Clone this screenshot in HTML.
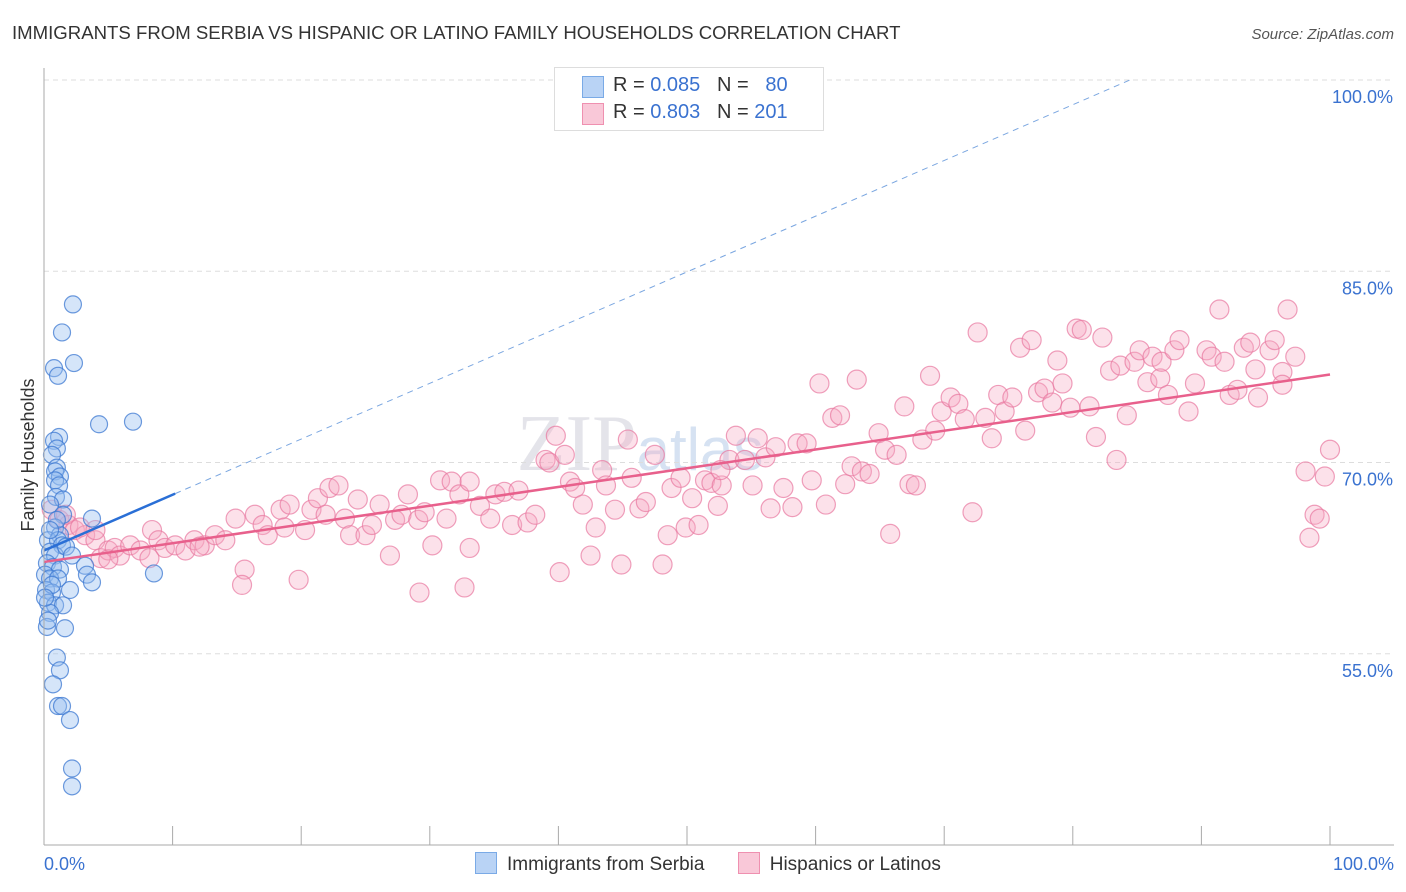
<!DOCTYPE html>
<html><head><meta charset="utf-8"><style>
body{margin:0;background:#fff;font-family:"Liberation Sans",sans-serif;}
#wrap{position:relative;width:1406px;height:892px;overflow:hidden}
</style></head><body>
<div id="wrap">
<svg id="svg" width="1406" height="892" xmlns="http://www.w3.org/2000/svg">
<text x="12" y="39" font-size="18.6" fill="#333">IMMIGRANTS FROM SERBIA VS HISPANIC OR LATINO FAMILY HOUSEHOLDS CORRELATION CHART</text>
<text x="1394" y="39" font-size="15" fill="#555" font-style="italic" text-anchor="end">Source: ZipAtlas.com</text>
<text x="640" y="470" font-size="80" fill="#e4e4ea" font-family="Liberation Serif" text-anchor="middle">ZIP<tspan font-family="Liberation Sans" font-size="60" fill="#d6e2f2">atlas</tspan></text>
<text transform="translate(34,455) rotate(-90)" font-size="18" fill="#333" text-anchor="middle">Family Households</text>
<g id="grid"></g><g id="pts"></g><g id="lines"></g><g id="axes"></g>
</svg>
<div style="position:absolute;left:554px;top:67px;width:268px;height:62px;border:1px solid #ddd;background:#fff;font-size:20px;color:#333">
<div style="position:absolute;left:27px;top:8px;width:20px;height:20px;background:#b9d3f5;border:1px solid #7aaae6"></div>
<div style="position:absolute;left:58px;top:6px">R = <span style="color:#3a72d0">0.085</span>&nbsp;&nbsp;&nbsp;N = &nbsp;&nbsp;<span style="color:#3a72d0">80</span></div>
<div style="position:absolute;left:27px;top:35px;width:20px;height:20px;background:#f9c8d8;border:1px solid #ef90b0"></div>
<div style="position:absolute;left:58px;top:33px">R = <span style="color:#3a72d0">0.803</span>&nbsp;&nbsp;&nbsp;N = <span style="color:#3a72d0">201</span></div>
</div>
<div style="position:absolute;top:852px;left:475px;font-size:19px;color:#333;white-space:nowrap">
<span><span style="display:inline-block;width:20px;height:20px;background:#b9d3f5;border:1px solid #7aaae6;vertical-align:-4px;margin-right:10px"></span>Immigrants from Serbia</span>
<span style="margin-left:28px"><span style="display:inline-block;width:20px;height:20px;background:#f9c8d8;border:1px solid #ef90b0;vertical-align:-4px;margin-right:10px"></span>Hispanics or Latinos</span>
</div>
</div>
<script>
const yTicks=[100,85,70,55];
const yTickLabels=["100.0%","85.0%","70.0%","55.0%"];
const xTickLabels=["0.0%","100.0%"];
const blueX=[2.25,1.4,2.33,0.78,1.09,4.28,6.92,1.17,0.78,1.0,0.62,1.0,0.86,1.24,0.86,1.17,0.93,1.48,0.47,1.48,3.73,0.86,1.24,0.31,1.09,1.4,0.47,0.86,1.71,2.18,0.23,0.7,1.24,0.08,0.47,1.09,3.19,3.34,3.73,2.02,0.16,0.62,0.31,0.86,1.48,0.47,0.23,1.63,1.0,1.24,0.7,1.09,1.4,2.02,2.18,2.18,8.55,0.31,0.62,0.08,1.0,0.47];
const blueY=[82.4,80.2,77.8,77.4,76.8,73.0,73.2,72.0,71.7,71.1,70.6,69.6,69.3,68.9,68.6,68.2,67.3,67.1,66.7,65.9,65.6,64.9,64.3,63.9,63.9,63.5,63.0,62.7,63.4,62.7,62.1,61.8,61.6,61.2,60.9,60.9,61.9,61.2,60.6,60.0,60.0,59.8,59.0,58.8,58.8,58.2,57.1,57.0,54.7,53.7,52.6,50.9,50.9,49.8,46.0,44.6,61.3,57.6,60.4,59.4,65.5,64.7];
const pinkX=[0.6,1.2,1.9,2.4,3.2,4.0,4.4,5.0,5.5,5.9,6.7,7.5,8.4,8.9,9.4,10.2,11.0,11.7,12.5,13.3,14.1,14.9,15.6,15.4,16.4,17.0,17.4,18.4,18.7,19.1,19.8,20.3,20.8,21.3,21.9,22.2,22.9,23.4,23.8,24.4,25.0,25.5,26.1,26.9,27.3,27.8,28.3,29.1,29.6,30.2,30.8,31.3,31.7,32.3,32.7,33.1,33.9,34.7,35.1,35.8,36.4,36.9,37.6,38.2,39.0,39.3,39.8,40.5,40.9,41.3,41.9,42.5,42.9,43.4,43.7,44.4,44.9,45.4,45.7,46.3,46.8,47.5,48.1,48.5,48.8,49.5,49.9,50.4,50.9,51.4,51.9,52.4,52.7,53.3,53.8,54.5,55.1,55.5,56.1,56.5,56.9,57.5,58.2,58.6,59.3,59.7,60.3,60.8,61.3,61.9,62.3,62.8,63.2,63.6,64.2,64.9,65.4,65.8,66.3,66.9,67.3,67.8,68.3,68.9,69.3,69.8,70.5,71.1,71.6,72.2,72.6,73.2,73.7,74.2,74.7,75.3,75.9,76.3,76.8,77.3,77.8,78.4,78.8,79.2,79.8,80.3,80.7,81.3,81.8,82.3,82.9,83.4,83.7,84.2,84.8,85.2,85.8,86.2,86.8,86.9,87.4,87.9,88.3,89.0,89.5,90.4,90.8,91.4,91.8,92.2,92.8,93.3,93.8,94.2,94.4,95.3,95.7,96.3,96.7,97.3,98.1,98.4,98.8,99.2,99.6,100,96.3,29.2,33.1,52.6,40.1,5.0,8.2,2.8,1.7,4.0,12.1];
const pinkY=[66.3,65.5,65.1,64.7,64.3,63.9,62.5,63.1,63.3,62.7,63.5,63.1,64.7,63.9,63.3,63.5,63.1,63.9,63.5,64.3,63.9,65.6,61.6,60.4,65.9,65.1,64.3,66.3,64.9,66.7,60.8,64.7,66.3,67.2,65.9,68.0,68.2,65.6,64.3,67.1,64.3,65.1,66.7,62.7,65.5,65.9,67.5,65.5,66.1,63.5,68.6,65.6,68.5,67.5,60.2,68.5,66.6,65.6,67.5,67.7,65.1,67.8,65.3,65.9,70.2,70.0,72.1,70.6,68.5,68.0,66.7,62.7,64.9,69.4,68.2,66.3,62.0,71.8,68.8,66.4,66.9,70.6,62.0,64.3,68.0,68.8,64.9,67.2,65.1,68.6,68.4,66.6,68.2,70.2,72.1,70.2,68.2,71.9,70.4,66.4,71.2,68.0,66.5,71.5,71.5,68.6,76.2,66.7,73.5,73.7,68.3,69.7,76.5,69.3,69.1,72.3,71.0,64.4,70.6,74.4,68.3,68.2,71.8,76.8,72.5,74.0,75.1,74.6,73.4,66.1,80.2,73.5,71.9,75.3,74.0,75.1,79.0,72.5,79.6,75.5,75.8,74.7,78.0,76.2,74.3,80.5,80.4,74.4,72.0,79.8,77.2,70.2,77.6,73.7,77.9,78.8,76.3,78.3,76.6,77.9,75.3,78.8,79.6,74.0,76.2,78.8,78.3,82.0,77.9,75.3,75.7,79.0,79.4,77.3,75.1,78.8,79.6,77.1,82.0,78.3,69.3,64.1,65.9,65.6,68.9,71.0,76.1,59.8,63.3,69.4,61.4,62.4,62.5,64.9,65.9,64.7,63.4];
const blueTrend=[63.1,0.437];   // intercept, slope
const pinkTrend=[62.2,0.147];
const blueSolidEnd=[10.2];

const X=v=>44+v*12.86, Y=v=>80+(100-v)*12.75;
const NS="http://www.w3.org/2000/svg";
function mk(tag,attrs,parent){const e=document.createElementNS(NS,tag);for(const k in attrs)e.setAttribute(k,attrs[k]);document.getElementById(parent).appendChild(e);return e;}
yTicks.forEach((t,i)=>{
 const g=mk('line',{x1:44,x2:1394,y1:Y(t),y2:Y(t),stroke:'#ddd','stroke-dasharray':'5,4'},'grid');
 
 
 const tx=mk('text',{x:1393,y:Y(t)+23,'font-size':18,fill:'#3a72d0','text-anchor':'end'},'axes');
 tx.textContent=yTickLabels[i];
 
 
});
let a=mk('line',{x1:44,x2:44,y1:68,y2:845,stroke:'#aaa'},'axes');


a=mk('line',{x1:44,x2:1394,y1:845,y2:845,stroke:'#aaa'},'axes');


for(let i=0;i<=10;i++){
 const t=mk('line',{x1:X(i*10),x2:X(i*10),y1:826,y2:845,stroke:'#aaa'},'axes');
 
 
}
[[0,'start',44],[100,'end',1394]].forEach((d,i)=>{
 const tx=mk('text',{x:d[2],y:870,'font-size':18,fill:'#3a72d0','text-anchor':d[1]},'axes');
 tx.textContent=xTickLabels[i];
 
 
});
pinkX.forEach((v,i)=>{
 const c=mk('circle',{cx:X(v),cy:Y(pinkY[i]),r:9.5,fill:'rgba(247,168,195,0.35)',stroke:'rgba(232,120,160,0.7)','stroke-width':1.2},'pts');
 
 
});
blueX.forEach((v,i)=>{
 const c=mk('circle',{cx:X(v),cy:Y(blueY[i]),r:8.5,fill:'rgba(150,190,240,0.4)',stroke:'rgba(60,120,210,0.75)','stroke-width':1.2},'pts');
 
 
});
const bx2=(100-blueTrend[0])/blueTrend[1];
let l=mk('line',{x1:X(blueSolidEnd[0]),y1:Y(blueTrend[0]+blueTrend[1]*blueSolidEnd[0]),x2:X(bx2),y2:Y(100),stroke:'#7aa6e0','stroke-width':1,'stroke-dasharray':'6,5'},'lines');


l=mk('line',{x1:X(0),y1:Y(blueTrend[0]),x2:X(blueSolidEnd[0]),y2:Y(blueTrend[0]+blueTrend[1]*blueSolidEnd[0]),stroke:'#2a6fd6','stroke-width':2.5},'lines');


l=mk('line',{x1:X(0),y1:Y(pinkTrend[0]),x2:X(100),y2:Y(pinkTrend[0]+pinkTrend[1]*100),stroke:'#e8608c','stroke-width':2.5},'lines');


</script>
</body></html>
